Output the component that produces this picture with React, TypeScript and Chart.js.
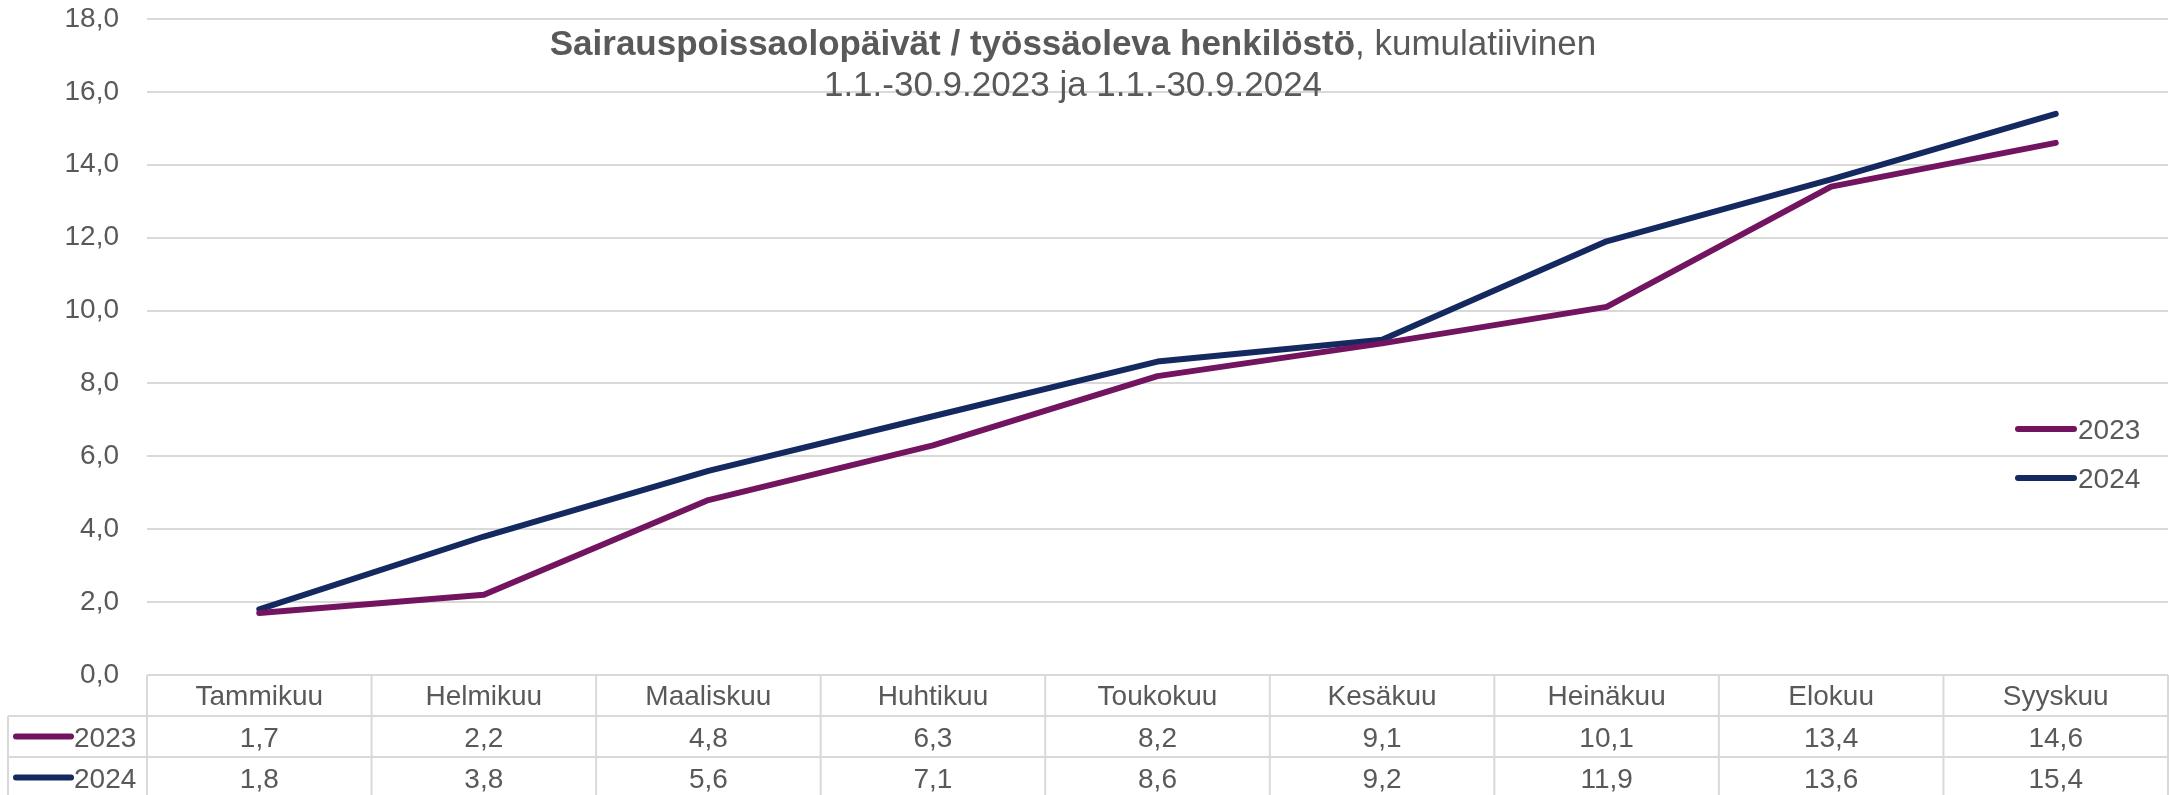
import React, { useEffect, useRef } from "react";
import { Chart, registerables } from "chart.js";

Chart.register(...registerables);

const categories = ["Tammikuu", "Helmikuu", "Maaliskuu", "Huhtikuu", "Toukokuu", "Kesäkuu", "Heinäkuu", "Elokuu", "Syyskuu"];
const seriesNames = ["2023", "2024"];
const values2023 = [1.7, 2.2, 4.8, 6.3, 8.2, 9.1, 10.1, 13.4, 14.6];
const values2024 = [1.8, 3.8, 5.6, 7.1, 8.6, 9.2, 11.9, 13.6, 15.4];
const yMin = 0;
const yMax = 18;
const yStep = 2;
const titleBold = "Sairauspoissaolopäivät / työssäoleva henkilöstö";
const titleRest = ", kumulatiivinen";
const subtitle = "1.1.-30.9.2023 ja 1.1.-30.9.2024";

const COLORS = ["#72145F", "#13295F"];
const TEXT = "#595959";
const GRID = "#D9D9D9";
const FONT = "'Liberation Sans', Arial, sans-serif";
const W = 2169;
const H = 795;

const fmt = (v: number) => v.toFixed(1).replace(".", ",");

const overlayPlugin = {
  id: "overlay",
  afterDraw(chart: any) {
    const ctx: CanvasRenderingContext2D = chart.ctx;
    const area = chart.chartArea;
    const xs = chart.scales.x;
    const n = categories.length;
    const colW = (area.right - area.left) / n;
    const top = area.bottom;
    const rowH = 41;
    const allValues = [values2023, values2024];

    ctx.save();
    // table grid
    ctx.strokeStyle = GRID;
    ctx.lineWidth = 2;
    ctx.beginPath();
    ctx.moveTo(area.left, top);
    ctx.lineTo(area.right, top);
    for (let r = 1; r <= 2; r++) {
      ctx.moveTo(8, top + r * rowH);
      ctx.lineTo(area.right, top + r * rowH);
    }
    for (let i = 0; i <= n; i++) {
      const x = area.left + i * colW;
      ctx.moveTo(x, top);
      ctx.lineTo(x, H);
    }
    ctx.moveTo(8, top + rowH);
    ctx.lineTo(8, H);
    ctx.stroke();

    // header texts
    ctx.fillStyle = TEXT;
    ctx.font = `28px ${FONT}`;
    ctx.textAlign = "center";
    ctx.textBaseline = "alphabetic";
    categories.forEach((c, i) => {
      const x = xs.getPixelForValue(i);
      ctx.fillText(c, x, top + 30);
    });
    allValues.forEach((vals, r) => {
      vals.forEach((v, i) => {
        const x = xs.getPixelForValue(i);
        ctx.fillText(fmt(v), x, top + rowH * (r + 1) + 31);
      });
    });

    // row labels with legend lines
    seriesNames.forEach((s, r) => {
      const cy = top + rowH * (r + 1) + rowH / 2;
      ctx.strokeStyle = COLORS[r];
      ctx.lineWidth = 6;
      ctx.lineCap = "round";
      ctx.beginPath();
      ctx.moveTo(16, cy);
      ctx.lineTo(71, cy);
      ctx.stroke();
      ctx.fillStyle = TEXT;
      ctx.textAlign = "left";
      ctx.fillText(s, 74, top + rowH * (r + 1) + 31);
    });

    // right legend
    const legY = [429, 478];
    seriesNames.forEach((s, r) => {
      const cy = legY[r];
      ctx.strokeStyle = COLORS[r];
      ctx.lineWidth = 6;
      ctx.lineCap = "round";
      ctx.beginPath();
      ctx.moveTo(2018, cy);
      ctx.lineTo(2074, cy);
      ctx.stroke();
      ctx.fillStyle = TEXT;
      ctx.textAlign = "left";
      ctx.textBaseline = "alphabetic";
      ctx.fillText(s, 2078, cy + 10);
    });

    // title
    const cx = 1073;
    ctx.fillStyle = TEXT;
    ctx.font = `bold 35px ${FONT}`;
    const wb = ctx.measureText(titleBold).width;
    ctx.font = `35px ${FONT}`;
    const wr = ctx.measureText(titleRest).width;
    const sx = cx - (wb + wr) / 2;
    ctx.textAlign = "left";
    ctx.font = `bold 35px ${FONT}`;
    ctx.fillText(titleBold, sx, 55);
    ctx.font = `35px ${FONT}`;
    ctx.fillText(titleRest, sx + wb, 55);
    ctx.textAlign = "center";
    ctx.fillText(subtitle, cx, 96);
    ctx.restore();
  },
};

export default function App() {
  const ref = useRef<HTMLCanvasElement | null>(null);
  useEffect(() => {
    if (!ref.current) return;
    const chart = new Chart(ref.current, {
      type: "line",
      data: {
        labels: categories,
        datasets: [
          {
            label: seriesNames[0],
            data: values2023,
            borderColor: COLORS[0],
            backgroundColor: COLORS[0],
            borderWidth: 6,
            pointRadius: 0,
            tension: 0,
            borderCapStyle: "round",
            borderJoinStyle: "round",
          },
          {
            label: seriesNames[1],
            data: values2024,
            borderColor: COLORS[1],
            backgroundColor: COLORS[1],
            borderWidth: 6,
            pointRadius: 0,
            tension: 0,
            borderCapStyle: "round",
            borderJoinStyle: "round",
          },
        ],
      },
      options: {
        responsive: false,
        animation: false,
        devicePixelRatio: 1,
        layout: { padding: { top: 19, bottom: 120, right: 1, left: 0 } },
        plugins: {
          legend: { display: false },
          title: { display: false },
          tooltip: { enabled: false },
        },
        scales: {
          x: {
            type: "category",
            display: false,
            offset: true,
          },
          y: {
            min: yMin,
            max: yMax,
            ticks: {
              stepSize: yStep,
              padding: 28,
              color: TEXT,
              font: { size: 28, family: FONT },
              callback: (v: any) => fmt(Number(v)),
            },
            grid: { color: GRID, lineWidth: 2, drawTicks: false },
            border: { display: false },
            afterFit: (scale: any) => {
              scale.width = 147;
              scale.paddingTop = 0;
              scale.paddingBottom = 0;
            },
          },
        },
      },
      plugins: [overlayPlugin],
    });
    return () => chart.destroy();
  }, []);
  return (
    <div style={{ position: "fixed", left: 0, top: 0, width: W, height: H, background: "#fff" }}>
      <canvas ref={ref} width={W} height={H} style={{ width: W, height: H, display: "block" }} />
    </div>
  );
}
